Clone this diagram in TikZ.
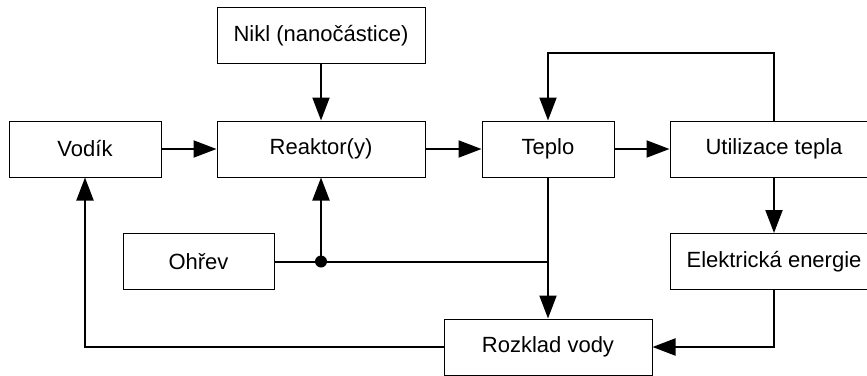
\documentclass[tikz,border=0pt]{standalone}
\usepackage{fontspec}
\setmainfont{Liberation Sans}
\usetikzlibrary{arrows.meta}
\begin{document}
\begin{tikzpicture}[x=0.5pt, y=-0.5pt,
        blok/.style={draw, line width=0.5pt, minimum height=28pt, inner sep=0pt,
            font=\fontsize{11}{13}\selectfont},
        tok/.style={line width=1pt, -{Triangle[length=11.5pt, width=8.5pt]}},
        spoj/.style={line width=1pt}
    ]
    \useasboundingbox (0,0) rectangle (867,375);
    \clip (0,0) rectangle (867,375);
    % bloky
    \node[blok, minimum width=104pt] (nikl) at (321,35.5) {Nikl (nanočástice)};
    \node[blok, minimum width=76pt] (vodik) at (85,149) {Vodík};
    \node[blok, minimum width=104pt] (reaktor) at (321,149) {Reaktor(y)};
    \node[blok, minimum width=66pt] (teplo) at (548,149) {Teplo};
    \node[blok, minimum width=104pt] (utilizace) at (774,149) {Utilizace tepla};
    \node[blok, minimum width=75.5pt] (ohrev) at (198.5,261.5) {Ohřev};
    \node[blok, minimum width=104pt] (elektricka) at (774,261.5) {Elektrická energie};
    \node[blok, minimum width=104pt] (rozklad) at (548,347) {Rozklad vody};
    % spoje
    \draw[tok] (nikl) -- (reaktor);
    \draw[tok] (vodik) -- (reaktor);
    \draw[tok] (reaktor) -- (teplo);
    \draw[tok] (teplo) -- (utilizace);
    \draw[tok] (utilizace.north) -- ++(0,-68) -| (teplo.north);
    \draw[tok] (utilizace) -- (elektricka);
    \draw[tok] (elektricka.south) |- (rozklad.east);
    \draw[tok] (teplo) -- (rozklad);
    \coordinate (uzel) at (reaktor.south |- ohrev.east);
    \draw[spoj] (ohrev.east) -- (ohrev.east -| teplo.south);
    \fill (uzel) circle (3pt);
    \draw[tok] (uzel) -- (reaktor);
    \draw[tok] (rozklad.west) -| (vodik.south);
\end{tikzpicture}
\end{document}
